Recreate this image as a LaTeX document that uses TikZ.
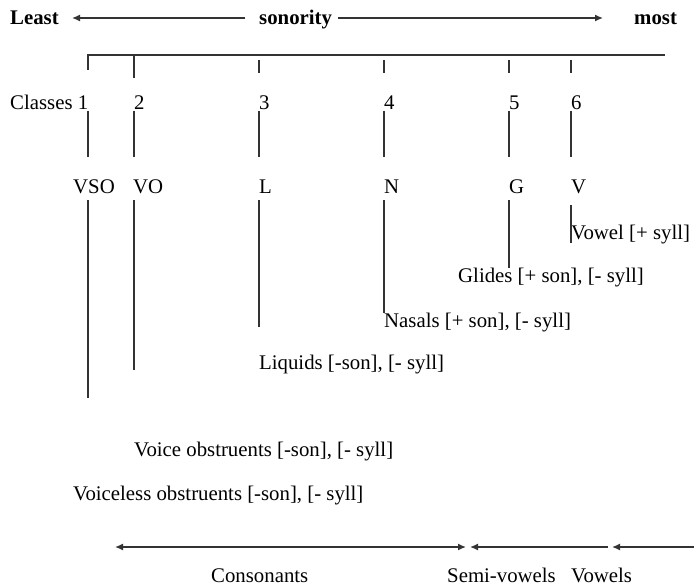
\documentclass[tikz,border=0pt]{standalone}
\usepackage{fontspec}
\setmainfont{Liberation Serif}
\usetikzlibrary{arrows.meta}
\begin{document}
\begin{tikzpicture}[x=1bp,y=-1bp,
  txt/.style={inner sep=0pt,anchor=base west,font=\fontsize{20.8bp}{24bp}\selectfont},
  btxt/.style={txt,font=\fontsize{20.8bp}{24bp}\selectfont\bfseries},
  ln/.style={draw=black!80,line width=1.4bp},
  arr/.style={ln,-{Latex[length=8bp,width=7bp]}},
  barr/.style={ln,{Latex[length=8bp,width=7bp]}-{Latex[length=8bp,width=7bp]}}]
\useasboundingbox (0,0) rectangle (694,588);
% top
\node[btxt] (least) at (10,25) {Least};
\node[btxt] (son) at (259,25) {sonority};
\node[btxt] (most) at (634,25) {most};
\coordinate (la) at (245,18); \coordinate (lb) at (72,18);
\coordinate (ra) at (338,18); \coordinate (rb) at (603,18);
\draw[arr] (la) -- (lb);
\draw[arr] (ra) -- (rb);
% bracket
\coordinate (b0) at (88,70); \coordinate (b1) at (88,55); \coordinate (b2) at (665,55);
\draw[ln] (b0) -- (b1) -- (b2);
\foreach \x/\a/\b in {134/55/78,259/60/73,384/60/73,509/60/73,571/60/73}
  \draw[ln] (\x,\a) coordinate (t\x a) -- (\x,\b) coordinate (t\x b);
% classes
\node[txt] (cl) at (10,110) {Classes 1};
\node[txt] (c2) at (134,110) {2};
\node[txt] (c3) at (259,110) {3};
\node[txt] (c4) at (384,110) {4};
\node[txt] (c5) at (509,110) {5};
\node[txt] (c6) at (571,110) {6};
\foreach \x in {88,134,259,384,509,571}
  \draw[ln] (\x,111) coordinate (u\x a) -- (\x,157) coordinate (u\x b);
% labels
\node[txt] (vso) at (73,194) {VSO};
\node[txt] (vo) at (133,194) {VO};
\node[txt] (l) at (259,194) {L};
\node[txt] (n) at (384,194) {N};
\node[txt] (g) at (509,194) {G};
\node[txt] (v) at (571,194) {V};
% descriptions
\node[txt] (vow) at (571,239) {Vowel [+ syll]};
\node[txt] (gli) at (458,282) {Glides [+ son], [- syll]};
\node[txt] (nas) at (384,327) {Nasals [+ son], [- syll]};
\node[txt] (liq) at (259,369) {Liquids [-son], [- syll]};
\node[txt] (vob) at (134,456) {Voice obstruents [-son], [- syll]};
\node[txt] (vlo) at (73,500) {Voiceless obstruents [-son], [- syll]};
% long verticals
\coordinate (d1a) at (88,200);  \coordinate (d1b) at (88,398);
\coordinate (d2a) at (134,200); \coordinate (d2b) at (134,370);
\coordinate (d3a) at (259,200); \coordinate (d3b) at (259,327);
\coordinate (d4a) at (384,200); \coordinate (d4b) at (384,313);
\coordinate (d5a) at (509,200); \coordinate (d5b) at (509,268);
\coordinate (d6a) at (571,205); \coordinate (d6b) at (571,243);
\foreach \i in {1,...,6} \draw[ln] (d\i a) -- (d\i b);
% bottom
\coordinate (e1) at (115,547); \coordinate (e2) at (466,547);
\coordinate (e3) at (470,547); \coordinate (e4) at (608,547);
\coordinate (e5) at (612,547); \coordinate (e6) at (694,547);
\draw[barr] (e1) -- (e2);
\draw[arr] (e4) -- (e3);
\draw[arr] (e6) -- (e5);
\node[txt] (cons) at (211,582) {Consonants};
\node[txt] (semi) at (447,582) {Semi-vowels};
\node[txt] (vows) at (571,582) {Vowels};
\end{tikzpicture}
\end{document}
